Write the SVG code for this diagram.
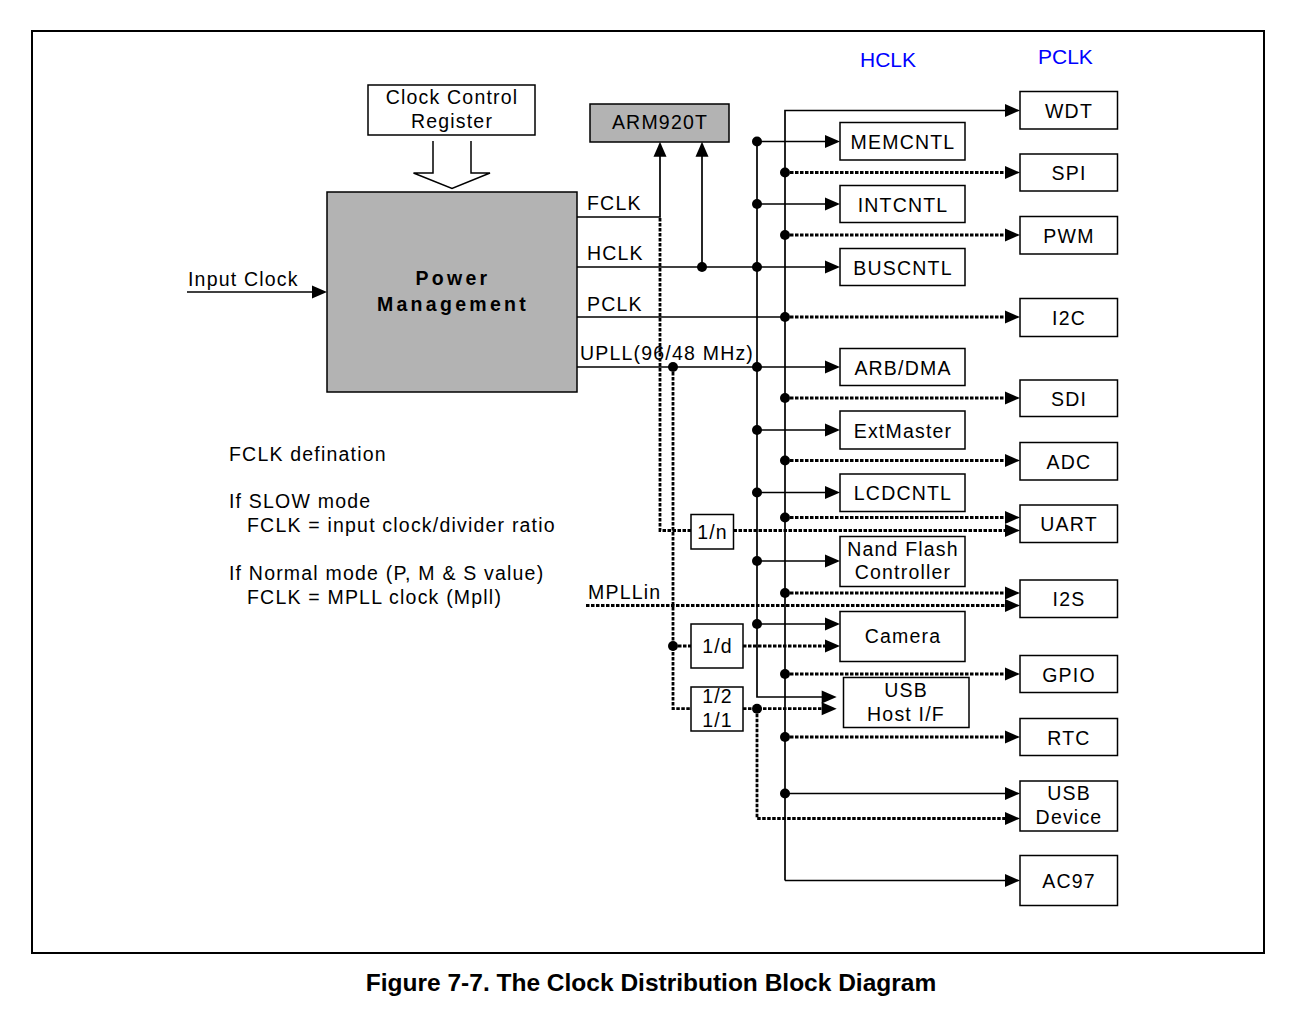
<svg xmlns="http://www.w3.org/2000/svg" width="1294" height="1020" viewBox="0 0 1294 1020">
<style>
.box{fill:#fff;stroke:#000;stroke-width:1.5}
.gray{fill:#b3b3b3;stroke:#000;stroke-width:1.5}
text{font-family:"Liberation Sans",Arial,sans-serif;font-size:19.5px;letter-spacing:1.2px;fill:#000}
.c{text-anchor:middle}
.b{font-weight:bold;letter-spacing:3.3px}
.blue{fill:#0000ff;font-size:21px;letter-spacing:0}
.cap{font-weight:bold;font-size:24.5px;letter-spacing:0}
.s{stroke:#000;stroke-width:1.7;fill:none}
.d{stroke:#000;stroke-width:2.8;stroke-dasharray:3.5 1.5;fill:none}
.dots circle{fill:#000}
</style>
<defs>
<marker id="a" markerUnits="userSpaceOnUse" markerWidth="15" markerHeight="13" refX="10" refY="6.5" orient="auto" overflow="visible">
<path d="M0,0 L15,6.5 L0,13 z" fill="#000"/>
</marker>
</defs>
<rect x="0" y="0" width="1294" height="1020" fill="#fff"/>
<rect x="32" y="31" width="1232" height="922" fill="none" stroke="#000" stroke-width="2"/>
<text class="blue" x="860" y="67">HCLK</text>
<text class="blue" x="1038" y="64">PCLK</text>
<text class="cap c" x="651" y="991">Figure 7-7. The Clock Distribution Block Diagram</text>

<g id="notes">
<text x="229" y="460.5">FCLK defination</text>
<text x="229" y="507.5">If SLOW mode</text>
<text x="247" y="531.5">FCLK = input clock/divider ratio</text>
<text x="229" y="580">If Normal mode (P, M &amp; S value)</text>
<text x="247" y="604">FCLK = MPLL clock (Mpll)</text>
</g>

<g id="connectors">
<path d="M433,141 V173 H413.5 L452,188.5 L490,173 H471 V141" fill="#fff" stroke="#000" stroke-width="1.5"/>
<path class="s" d="M187,292 H322" marker-end="url(#a)"/>
<path class="s" d="M577,217 H660 V146.7" marker-end="url(#a)"/>
<path class="s" d="M702,267 V146.7" marker-end="url(#a)"/>
<path class="s" d="M577,267 H835" marker-end="url(#a)"/>
<path class="s" d="M577,317 H785"/>
<path class="s" d="M577,367 H835" marker-end="url(#a)"/>
<path class="s" d="M757,141.5 V697 H831.7" marker-end="url(#a)"/>
<path class="s" d="M757,141.5 H835" marker-end="url(#a)"/>
<path class="s" d="M757,204 H835" marker-end="url(#a)"/>
<path class="s" d="M757,430 H835" marker-end="url(#a)"/>
<path class="s" d="M757,492.5 H835" marker-end="url(#a)"/>
<path class="s" d="M757,561 H835" marker-end="url(#a)"/>
<path class="s" d="M757,624 H835" marker-end="url(#a)"/>
<path class="s" d="M785,880.5 V110.5 H1015" marker-end="url(#a)"/>
<path class="s" d="M785,880.5 H1015" marker-end="url(#a)"/>
<path class="s" d="M785,793.5 H1015" marker-end="url(#a)"/>
<path class="d" d="M785,317 H1015" marker-end="url(#a)"/>
<path class="d" d="M785,172.5 H1015" marker-end="url(#a)"/>
<path class="d" d="M785,235 H1015" marker-end="url(#a)"/>
<path class="d" d="M785,398 H1015" marker-end="url(#a)"/>
<path class="d" d="M785,460.5 H1015" marker-end="url(#a)"/>
<path class="d" d="M785,517.5 H1015" marker-end="url(#a)"/>
<path class="d" d="M785,593 H1015" marker-end="url(#a)"/>
<path class="d" d="M785,674 H1015" marker-end="url(#a)"/>
<path class="d" d="M785,737 H1015" marker-end="url(#a)"/>
<path class="d" d="M660,218 V530.5 H691"/>
<path class="d" d="M733.5,530.5 H1015" marker-end="url(#a)"/>
<path class="d" d="M673,367 V708.7 H691"/>
<path class="d" d="M673,646 H691"/>
<path class="d" d="M743,646 H835" marker-end="url(#a)"/>
<path class="d" d="M743,708.7 H831.7" marker-end="url(#a)"/>
<path class="d" d="M757,708.7 V818.5 H1015" marker-end="url(#a)"/>
<path class="d" d="M586,605.5 H1015" marker-end="url(#a)"/>
<g class="dots">
<circle cx="757" cy="141.5" r="5"/><circle cx="757" cy="204" r="5"/><circle cx="757" cy="267" r="5"/>
<circle cx="757" cy="367" r="5"/><circle cx="757" cy="430" r="5"/><circle cx="757" cy="492.5" r="5"/>
<circle cx="757" cy="561" r="5"/><circle cx="757" cy="624" r="5"/><circle cx="757" cy="708.7" r="5"/>
<circle cx="702" cy="267" r="5"/><circle cx="673" cy="367" r="5"/><circle cx="673" cy="646" r="5"/>
<circle cx="785" cy="172.5" r="5"/><circle cx="785" cy="235" r="5"/><circle cx="785" cy="317" r="5"/>
<circle cx="785" cy="398" r="5"/><circle cx="785" cy="460.5" r="5"/><circle cx="785" cy="517.5" r="5"/>
<circle cx="785" cy="593" r="5"/><circle cx="785" cy="674" r="5"/><circle cx="785" cy="737" r="5"/>
<circle cx="785" cy="793.5" r="5"/>
</g>
<text x="188" y="286">Input Clock</text>
<text x="587" y="210">FCLK</text>
<text x="587" y="260">HCLK</text>
<text x="587" y="311">PCLK</text>
<text x="580" y="360">UPLL(96/48 MHz)</text>
<text x="588" y="599">MPLLin</text>
</g>

<g id="ccr"><rect class="box" x="368" y="85" width="167" height="50"/><text class="c" x="452" y="104">Clock Control</text><text class="c" x="452" y="128">Register</text></g>
<g id="pm"><rect class="gray" x="327" y="192" width="250" height="200"/><text class="c b" x="453" y="285">Power</text><text class="c b" x="453" y="311">Management</text></g>
<g id="arm"><rect class="gray" x="590" y="104" width="139" height="38"/><text class="c" x="660" y="129">ARM920T</text></g>

<g id="memcntl"><rect class="box" x="840" y="122.5" width="125" height="37.5"/><text class="c" x="903" y="148.5">MEMCNTL</text></g>
<g id="intcntl"><rect class="box" x="840" y="185.5" width="125" height="37"/><text class="c" x="903" y="211.5">INTCNTL</text></g>
<g id="buscntl"><rect class="box" x="840" y="248.5" width="125" height="37"/><text class="c" x="903" y="274.5">BUSCNTL</text></g>
<g id="arbdma"><rect class="box" x="840" y="348.5" width="125" height="37"/><text class="c" x="903" y="374.5">ARB/DMA</text></g>
<g id="extmaster"><rect class="box" x="840" y="411" width="125" height="38"/><text class="c" x="903" y="437.5">ExtMaster</text></g>
<g id="lcdcntl"><rect class="box" x="840" y="474" width="125" height="37.5"/><text class="c" x="903" y="500">LCDCNTL</text></g>
<g id="nand"><rect class="box" x="840" y="536.5" width="125" height="50"/><text class="c" x="903" y="556">Nand Flash</text><text class="c" x="903" y="579">Controller</text></g>
<g id="camera"><rect class="box" x="840" y="611.5" width="125" height="50"/><text class="c" x="903" y="643">Camera</text></g>
<g id="usbhost"><rect class="box" x="843.5" y="677.5" width="125.5" height="50"/><text class="c" x="906" y="697">USB</text><text class="c" x="906" y="721">Host I/F</text></g>

<g id="div-n"><rect class="box" x="691" y="514.5" width="42.5" height="34.5"/><text class="c" x="712.5" y="539">1/n</text></g>
<g id="div-d"><rect class="box" x="691" y="624" width="52" height="44"/><text class="c" x="717.5" y="653">1/d</text></g>
<g id="div-2"><rect class="box" x="691" y="687" width="52" height="44"/><text class="c" x="717.5" y="703">1/2</text><text class="c" x="717.5" y="727">1/1</text></g>

<g id="wdt"><rect class="box" x="1020" y="91.5" width="97.5" height="37.5"/><text class="c" x="1069" y="117.5">WDT</text></g>
<g id="spi"><rect class="box" x="1020" y="154" width="97.5" height="37"/><text class="c" x="1069" y="180">SPI</text></g>
<g id="pwm"><rect class="box" x="1020" y="216.5" width="97.5" height="37.5"/><text class="c" x="1069" y="242.5">PWM</text></g>
<g id="i2c"><rect class="box" x="1020" y="298.5" width="97.5" height="38"/><text class="c" x="1069" y="324.5">I2C</text></g>
<g id="sdi"><rect class="box" x="1020" y="380" width="97.5" height="36.5"/><text class="c" x="1069" y="405.5">SDI</text></g>
<g id="adc"><rect class="box" x="1020" y="442.5" width="97.5" height="37.5"/><text class="c" x="1069" y="468.5">ADC</text></g>
<g id="uart"><rect class="box" x="1020" y="505" width="97.5" height="37.5"/><text class="c" x="1069" y="531">UART</text></g>
<g id="i2s"><rect class="box" x="1020" y="580" width="97.5" height="37.5"/><text class="c" x="1069" y="606">I2S</text></g>
<g id="gpio"><rect class="box" x="1020" y="655.5" width="97.5" height="37"/><text class="c" x="1069" y="681.5">GPIO</text></g>
<g id="rtc"><rect class="box" x="1020" y="718.5" width="97.5" height="37"/><text class="c" x="1069" y="744.5">RTC</text></g>
<g id="usbdev"><rect class="box" x="1020" y="781" width="97.5" height="50"/><text class="c" x="1069" y="800">USB</text><text class="c" x="1069" y="824">Device</text></g>
<g id="ac97"><rect class="box" x="1020" y="855.5" width="97.5" height="50"/><text class="c" x="1069" y="888">AC97</text></g>
</svg>
